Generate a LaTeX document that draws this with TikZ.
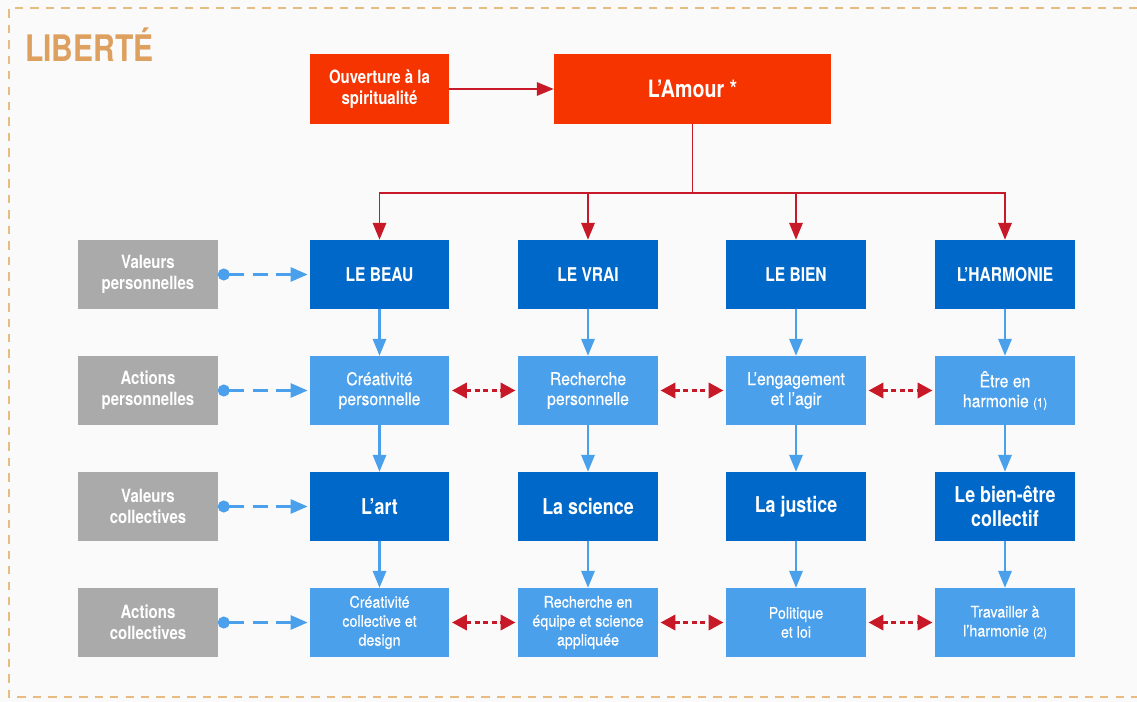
\documentclass[tikz,border=0pt]{standalone}
\usepackage{fontspec}
\setmainfont{TeX Gyre Heros}[FakeStretch=0.82]
\newfontfamily\lightfont{TeX Gyre Heros}[FakeStretch=0.9, FakeBold=0.4]
\usetikzlibrary{arrows.meta}

\definecolor{libOrange}{RGB}{221,160,95}
\definecolor{borderOrange}{RGB}{232,188,128}
\definecolor{redBox}{RGB}{245,52,0}
\definecolor{redLine}{RGB}{200,25,40}
\definecolor{darkBlue}{RGB}{0,104,200}
\definecolor{lightBlue}{RGB}{75,160,235}
\definecolor{grayBox}{RGB}{170,170,170}
\definecolor{bgGray}{RGB}{250,250,250}

\tikzset{
  box/.style={rectangle, minimum width=3.475cm, minimum height=1.725cm, inner sep=0pt, align=center, text=white},
  redbox/.style={box, fill=redBox, font=\bfseries\fontsize{13}{14.5}\selectfont},
  valbox/.style={box, fill=darkBlue, font=\bfseries\fontsize{13.5}{15.5}\selectfont},
  collbox/.style={box, fill=darkBlue, font=\bfseries\fontsize{15.5}{17}\selectfont},
  actbox/.style={box, fill=lightBlue, font=\lightfont\fontsize{12.5}{14.2}\selectfont},
  cactbox/.style={box, fill=lightBlue, font=\lightfont\fontsize{11.3}{13.5}\selectfont},
  graybox/.style={box, fill=grayBox, font=\bfseries\fontsize{13}{15}\selectfont},
  redarrow/.style={draw=redLine, line width=1.4pt, -{Triangle[width=9.5pt,length=12pt]}, redLine},
  redline/.style={draw=redLine, line width=1.4pt},
  bluearrow/.style={draw=lightBlue, line width=1.5pt, -{Triangle[width=9.5pt,length=12pt]}, lightBlue},
  dotarrow/.style={draw=lightBlue, line width=1.6pt, dash pattern=on 11pt off 6pt, {Circle[length=8.5pt]}-{Triangle[width=10pt,length=12pt]}, lightBlue, shorten >=1.5pt},
  linkarrow/.style={draw=redLine, line width=1.6pt, dash pattern=on 3.5pt off 2.5pt, {Triangle[width=11pt,length=10.5pt]}-{Triangle[width=11pt,length=10.5pt]}, redLine, shorten <=2pt, shorten >=2pt}
}

\begin{document}
\begin{tikzpicture}[x=0.025cm, y=-0.025cm]

      \useasboundingbox[fill=bgGray] (0,0) rectangle (1137,702);
      \draw[borderOrange, line width=1.2pt, dash pattern=on 6pt off 5pt] (1137,8) -- (9,8) -- (9,697) -- (1137,697);
      \node[anchor=west, text=libOrange, font=\bfseries\fontsize{26}{28}\selectfont, inner sep=0pt] (title) at (25,45) {LIBERTÉ};

      % top
      \node[redbox] (ouverture) at (379.5,89) {Ouverture à la\\spiritualité};
      \node[redbox, minimum width=6.925cm, font=\bfseries\fontsize{17}{19}\selectfont] (amour) at (692.5,89) {L’Amour *};
      \draw[redarrow] (ouverture) -- (amour);

      % left column
      \node[graybox] (valP) at (148,274.5) {Valeurs\\personnelles};
      \node[graybox] (actP) at (148,390.5) {Actions\\personnelles};
      \node[graybox] (valC) at (148,506.5) {Valeurs\\collectives};
      \node[graybox] (actC) at (148,622.5) {Actions\\collectives};

      % first row
      \node[valbox] (beau) at (379.5,274.5) {LE BEAU};
      \node[valbox] (vrai) at (588,274.5) {LE VRAI};
      \node[valbox] (bien) at (796,274.5) {LE BIEN};
      \node[valbox] (harmonie) at (1005,274.5) {L’HARMONIE};

      % second row
      \node[actbox] (creaP) at (379.5,390.5) {Créativité\\personnelle};
      \node[actbox] (rechP) at (588,390.5) {Recherche\\personnelle};
      \node[actbox] (engagement) at (796,390.5) {L’engagement\\et l’agir};
      \node[actbox] (etre) at (1005,390.5) {Être en\\harmonie {\fontsize{9}{10}\selectfont(1)}};

      % third row
      \node[collbox] (art) at (379.5,506.5) {L’art};
      \node[collbox] (science) at (588,506.5) {La science};
      \node[collbox] (justice) at (796,506.5) {La justice};
      \node[collbox] (bienetre) at (1005,506.5) {Le bien-être\\collectif};

      % fourth row
      \node[cactbox] (creaC) at (379.5,622.5) {Créativité\\collective et\\design};
      \node[cactbox] (rechC) at (588,622.5) {Recherche en\\équipe et science\\appliquée};
      \node[cactbox] (politique) at (796,622.5) {Politique\\et loi};
      \node[cactbox] (travail) at (1005,622.5) {Travailler à\\l’harmonie {\fontsize{9}{10}\selectfont(2)}};

      % tree from L'Amour
      \coordinate (split) at (692.5,193);
      \draw[redline] (amour.south) -- (split);
      \draw[redarrow] (split) -| (beau.north);
      \draw[redarrow] (split) -| (vrai.north);
      \draw[redarrow] (split) -| (bien.north);
      \draw[redarrow] (split) -| (harmonie.north);

      % down the columns
      \draw[bluearrow] (beau) -- (creaP);
      \draw[bluearrow] (creaP) -- (art);
      \draw[bluearrow] (art) -- (creaC);
      \draw[bluearrow] (vrai) -- (rechP);
      \draw[bluearrow] (rechP) -- (science);
      \draw[bluearrow] (science) -- (rechC);
      \draw[bluearrow] (bien) -- (engagement);
      \draw[bluearrow] (engagement) -- (justice);
      \draw[bluearrow] (justice) -- (politique);
      \draw[bluearrow] (harmonie) -- (etre);
      \draw[bluearrow] (etre) -- (bienetre);
      \draw[bluearrow] (bienetre) -- (travail);

      % from the labels
      \draw[dotarrow] (valP) -- (beau);
      \draw[dotarrow] (actP) -- (creaP);
      \draw[dotarrow] (valC) -- (art);
      \draw[dotarrow] (actC) -- (creaC);

      % links between actions
      \draw[linkarrow] (creaP) -- (rechP);
      \draw[linkarrow] (rechP) -- (engagement);
      \draw[linkarrow] (engagement) -- (etre);
      \draw[linkarrow] (creaC) -- (rechC);
      \draw[linkarrow] (rechC) -- (politique);
      \draw[linkarrow] (politique) -- (travail);

\end{tikzpicture}
\end{document}
